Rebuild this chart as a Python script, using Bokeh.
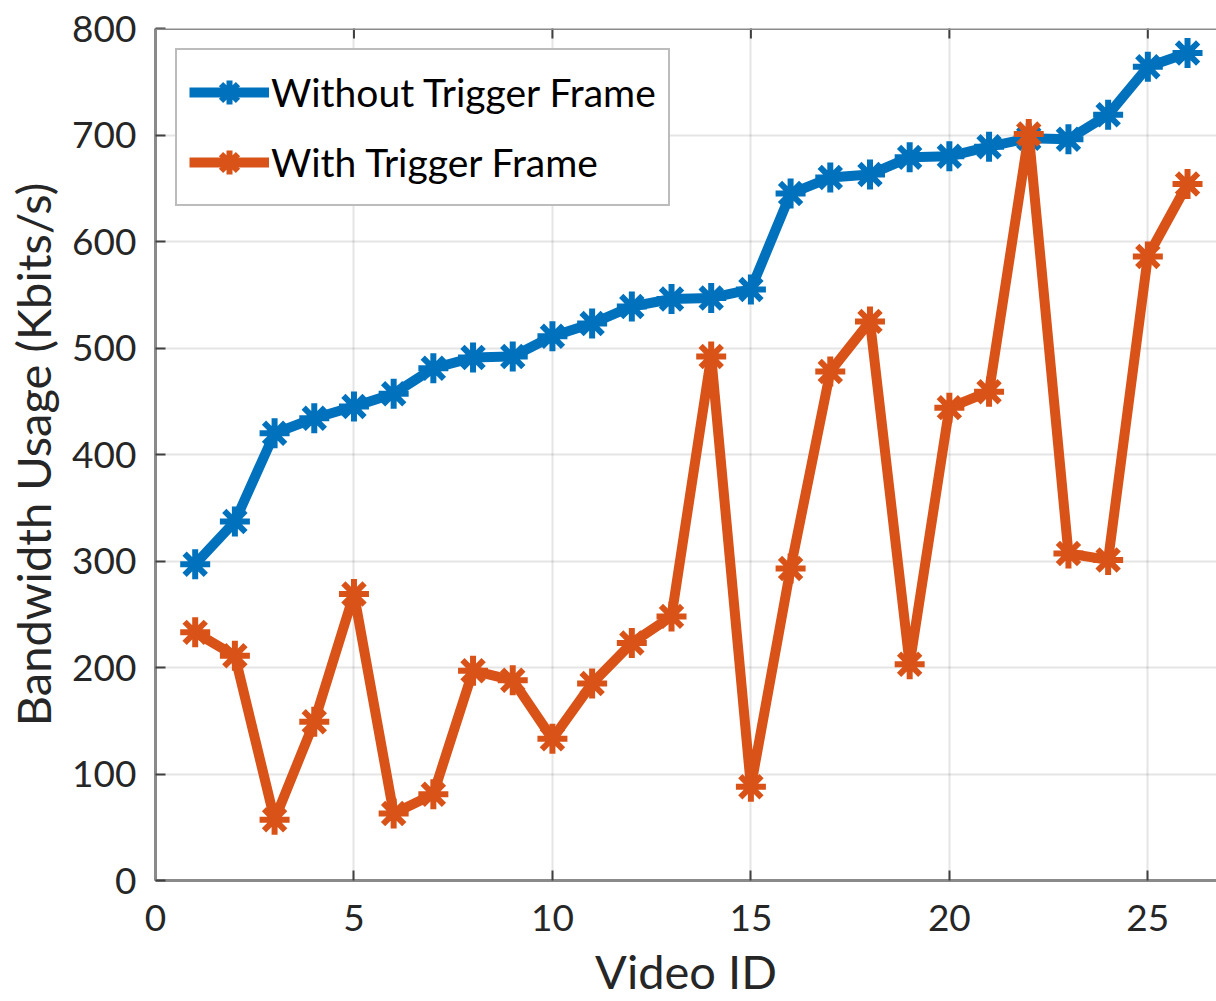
import numpy as np
from bokeh.plotting import figure
from bokeh.models import Range1d, FixedTicker, Legend, LegendItem, Span
from bokeh.embed import file_html
from bokeh.resources import INLINE

video_id = list(range(1, 27))
without_tf = [297, 337, 420, 434, 445, 457, 481, 491, 492, 511, 523, 539, 546,
              547, 555, 645, 660, 663, 679, 680, 689, 697, 696, 719, 764, 777]
with_tf = [233, 211, 57, 149, 269, 63, 81, 197, 188, 133, 185, 223, 248,
           492, 88, 293, 478, 525, 203, 444, 459, 701, 307, 301, 586, 654]
x_ticks = [0, 5, 10, 15, 20, 25]
y_ticks = [0, 100, 200, 300, 400, 500, 600, 700, 800]
series_names = ["Without Trigger Frame", "With Trigger Frame"]

BLUE = "#0072BD"
ORANGE = "#D95319"
FONT = "Lato"
SPINE = "#8a8a8a"
TICK = "#404040"

p = figure(width=1216, height=1001, output_backend="svg", toolbar_location=None,
           x_range=Range1d(0, 26.73), y_range=Range1d(0, 800),
           min_border_left=155, min_border_right=0, min_border_top=28,
           min_border_bottom=100)
p.outline_line_color = None
p.background_fill_color = "white"

for ax in (p.xaxis[0], p.yaxis[0]):
    ax.major_tick_in = 10
    ax.major_tick_out = 0
    ax.minor_tick_line_color = None
    ax.axis_line_color = SPINE
    ax.axis_line_width = 3
    ax.major_tick_line_color = TICK
    ax.major_tick_line_width = 2
    ax.major_label_text_font = FONT
    ax.major_label_text_font_size = "37px"
    ax.major_label_text_color = "#262626"
    ax.axis_label_text_font = FONT
    ax.axis_label_text_font_size = "47px"
    ax.axis_label_text_font_style = "normal"
    ax.axis_label_text_color = "#262626"

p.xaxis.ticker = FixedTicker(ticks=x_ticks)
p.yaxis.ticker = FixedTicker(ticks=y_ticks)
p.xaxis.axis_label = "Video ID"
p.yaxis.axis_label = "Bandwidth Usage (Kbits/s)"
p.xaxis.major_label_standoff = 24
p.xaxis.axis_label_standoff = 9
p.yaxis.major_label_standoff = 19
p.yaxis.axis_label_standoff = 8

p.grid.grid_line_color = "#000000"
p.grid.grid_line_alpha = 0.1
p.grid.grid_line_width = 2
p.xgrid.ticker = FixedTicker(ticks=x_ticks)
p.ygrid.ticker = FixedTicker(ticks=y_ticks)

# top box line with inward ticks
p.add_layout(Span(location=800, dimension="width", line_color=SPINE, line_width=3))
p.scatter(x_ticks, [800] * len(x_ticks), marker="dash", angle=np.pi / 2, size=20,
          line_color=TICK, line_width=2)

l1 = p.line(video_id, without_tf, line_color=BLUE, line_width=10)
m1 = p.scatter(video_id, without_tf, marker="asterisk", size=30, line_color=BLUE, line_width=6)
l2 = p.line(video_id, with_tf, line_color=ORANGE, line_width=10)
m2 = p.scatter(video_id, with_tf, marker="asterisk", size=30, line_color=ORANGE, line_width=6)

legend = Legend(items=[LegendItem(label=series_names[0], renderers=[l1, m1]),
                       LegendItem(label=series_names[1], renderers=[l2, m2])],
                location="top_left", margin=20, padding=12, spacing=10,
                glyph_width=80, glyph_height=60, label_height=60,
                label_standoff=2, label_text_font=FONT, label_text_font_size="39px",
                label_text_color="#000000", border_line_color="#7a7a7a",
                border_line_width=2, background_fill_alpha=1.0)
p.add_layout(legend)

open("out.html", "w").write(file_html(p, INLINE))
